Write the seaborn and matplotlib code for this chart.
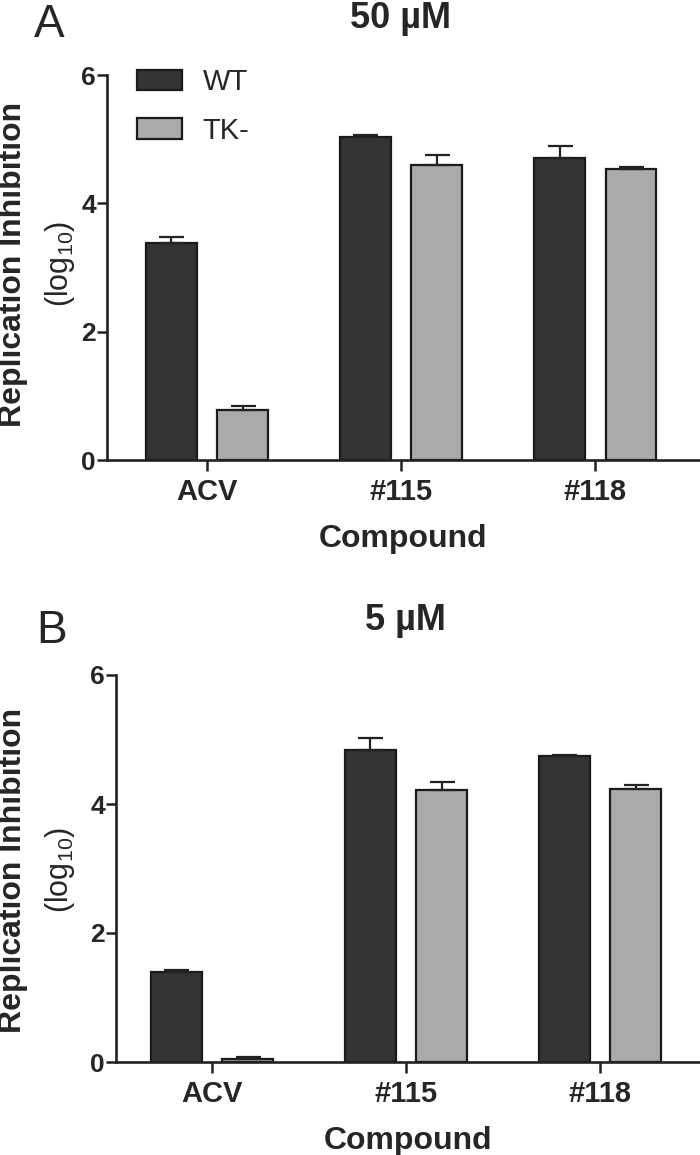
"""Replication inhibition of WT and TK- virus at two compound concentrations."""

import matplotlib

matplotlib.use("Agg")
import matplotlib.pyplot as plt
import numpy as np
import pandas as pd
import seaborn as sns

# Values (log10 replication inhibition, mean and upper SEM)
compounds = ["ACV", "#115", "#118"]
strains = ["WT", "TK-"]

wt_50 = [3.38, 5.04, 4.71]
wt_50_err = [0.10, 0.02, 0.19]
tk_50 = [0.78, 4.60, 4.53]
tk_50_err = [0.06, 0.16, 0.04]

wt_5 = [1.39, 4.83, 4.74]
wt_5_err = [0.03, 0.19, 0.02]
tk_5 = [0.04, 4.21, 4.23]
tk_5_err = [0.03, 0.13, 0.06]

colors = {"WT": "#333333", "TK-": "#aaaaaa"}
yticks = [0, 2, 4, 6]

sns.set_theme(style="ticks")
plt.rcParams["font.family"] = ["Liberation Sans", "DejaVu Sans"]
plt.rcParams["mathtext.fontset"] = "custom"
plt.rcParams["mathtext.rm"] = "Liberation Sans"
plt.rcParams["mathtext.it"] = "Liberation Sans:italic"
plt.rcParams["mathtext.bf"] = "Liberation Sans:bold"

W, H = 700, 1155
fig = plt.figure(figsize=(W / 100, H / 100), dpi=100)


def px_axes(left, top, right, bottom):
    """Axes from pixel box (top-left origin)."""
    return fig.add_axes([left / W, 1 - bottom / H, (right - left) / W, (bottom - top) / H])


def draw_panel(ax, wt, wt_err, tk, tk_err, xlim, show_legend):
    df = pd.DataFrame({
        "compound": compounds * 2,
        "strain": ["WT"] * 3 + ["TK-"] * 3,
        "value": wt + tk,
    })
    sns.barplot(
        data=df, x="compound", y="value", hue="strain",
        order=compounds, hue_order=strains, palette=colors,
        width=0.735, gap=0.29, errorbar=None,
        edgecolor="#1a1a1a", linewidth=1.6, saturation=1,
        legend=False, ax=ax,
    )
    # upper-only error bars on top of the drawn bars
    for cont, err in zip(ax.containers, [wt_err, tk_err]):
        xs = [p.get_x() + p.get_width() / 2 for p in cont]
        ys = [p.get_height() for p in cont]
        ax.errorbar(xs, ys, yerr=[np.zeros(len(err)), err], fmt="none",
                    ecolor="#222222", elinewidth=1.6, capsize=9, capthick=1.6,
                    zorder=1)

    ax.set_ylim(0, 6)
    ax.set_xlim(*xlim)
    ax.set_yticks(yticks)
    ax.set_ylabel("")
    ax.set_xlabel("Compound", fontsize=23, fontweight="bold", labelpad=13)
    for lbl in ax.get_xticklabels():
        lbl.set_fontweight("bold")
    for lbl in ax.get_yticklabels():
        lbl.set_fontweight("bold")
    ax.tick_params(axis="x", labelsize=21, length=8, width=1.8, pad=5, color="#222222")
    ax.tick_params(axis="y", labelsize=19, length=7, width=1.8, pad=1, color="#222222")
    sns.despine(ax=ax)
    for side in ["left", "bottom"]:
        ax.spines[side].set_linewidth(1.9)
        ax.spines[side].set_color("#222222")

    if show_legend:
        ax.legend(handles=ax.containers, labels=strains, loc="upper left",
                  bbox_to_anchor=(0.05, 1.017), frameon=False, fontsize=21,
                  handlelength=1.55, handleheight=0.7, handletextpad=0.72,
                  labelspacing=0.7, borderpad=0, borderaxespad=0)


ax_top = px_axes(107, 75, 700, 460)
draw_panel(ax_top, wt_50, wt_50_err, tk_50, tk_50_err, (-0.515, 2.54), True)

ax_bot = px_axes(116, 675, 700, 1062)
draw_panel(ax_bot, wt_5, wt_5_err, tk_5, tk_5_err, (-0.495, 2.515), False)

# panel titles and letters
fig.text(400 / W, 1 - 28 / H, "50 µM", ha="center", va="baseline", fontsize=26, fontweight="bold")
fig.text(405 / W, 1 - 630 / H, "5 µM", ha="center", va="baseline", fontsize=26, fontweight="bold")
fig.text(49 / W, 1 - 37 / H, "A", ha="center", va="baseline", fontsize=33)
fig.text(52 / W, 1 - 643 / H, "B", ha="center", va="baseline", fontsize=33)

# two-line y labels: bold first line, regular second line
for yc in [264, 870]:
    fig.text(13 / W, 1 - yc / H, "Replication Inhibition", rotation=90,
             ha="center", va="center", fontsize=23, fontweight="bold")
    fig.text(60 / W, 1 - yc / H, "(log$_{10}$)", rotation=90,
             ha="center", va="center", fontsize=22)

fig.savefig("out.png", dpi=100)
